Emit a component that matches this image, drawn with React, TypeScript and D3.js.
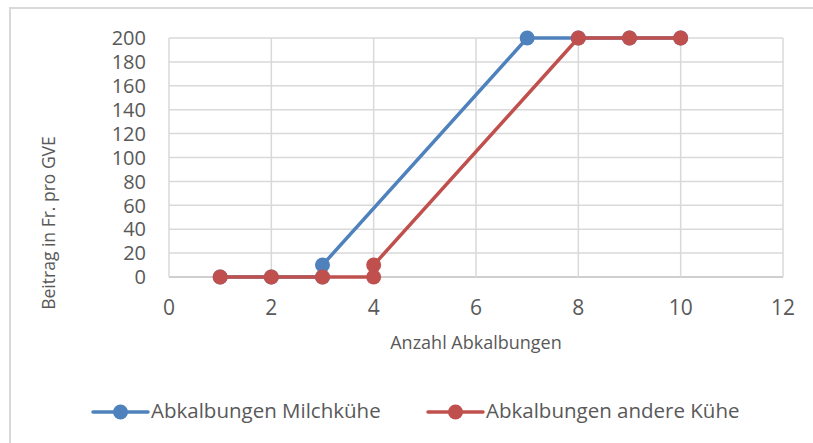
import React, { useEffect, useRef } from 'react';
import * as d3 from 'd3';

// Werte
const milchX = [1, 2, 3, 3, 7, 8, 9, 10];
const milchY = [0, 0, 0, 10, 200, 200, 200, 200];
const andereX = [1, 2, 3, 4, 4, 8, 9, 10];
const andereY = [0, 0, 0, 0, 10, 200, 200, 200];
const xTicks = [0, 2, 4, 6, 8, 10, 12];
const yTicks = [0, 20, 40, 60, 80, 100, 120, 140, 160, 180, 200];
const seriesNames = ['Abkalbungen Milchkühe', 'Abkalbungen andere Kühe'];
const seriesColors = ['#4f81bd', '#c0504d'];

const W = 813;
const H = 443;
const plot = { left: 169, right: 783, top: 38, bottom: 277 };
const font = '"Open Sans", sans-serif';
const textColor = '#595959';

const App = () => {
  const svgRef = useRef<SVGSVGElement | null>(null);

  useEffect(() => {
    const svg = d3.select(svgRef.current);
    svg.selectAll('*').remove();

    const x = d3.scaleLinear().domain([0, 12]).range([plot.left, plot.right]);
    const y = d3.scaleLinear().domain([0, 200]).range([plot.bottom, plot.top]);

    // Rahmen des Diagramms
    svg.append('rect')
      .attr('x', 10).attr('y', 8)
      .attr('width', W).attr('height', H)
      .attr('fill', '#fff')
      .attr('stroke', '#d9d9d9')
      .attr('stroke-width', 2);

    // Gitterlinien
    const grid = svg.append('g');
    grid.selectAll('line.h')
      .data(yTicks)
      .join('line')
      .attr('class', 'h')
      .attr('x1', plot.left).attr('x2', plot.right)
      .attr('y1', d => y(d)).attr('y2', d => y(d))
      .attr('stroke', d => (d === 0 ? '#bfbfbf' : '#d9d9d9'))
      .attr('stroke-width', 1.5);
    grid.selectAll('line.v')
      .data(xTicks)
      .join('line')
      .attr('class', 'v')
      .attr('x1', d => x(d)).attr('x2', d => x(d))
      .attr('y1', plot.top).attr('y2', plot.bottom)
      .attr('stroke', '#d9d9d9')
      .attr('stroke-width', 1.5);

    // Achsenbeschriftungen
    svg.append('g')
      .selectAll('text')
      .data(yTicks)
      .join('text')
      .attr('x', 146)
      .attr('y', d => y(d))
      .attr('dy', '0.36em')
      .attr('text-anchor', 'end')
      .style('font-family', font)
      .style('font-size', '20px')
      .style('fill', textColor)
      .text(d => d);

    svg.append('g')
      .selectAll('text')
      .data(xTicks)
      .join('text')
      .attr('x', d => x(d))
      .attr('y', 315)
      .attr('text-anchor', 'middle')
      .style('font-family', font)
      .style('font-size', '21px')
      .style('fill', textColor)
      .text(d => d);

    svg.append('text')
      .attr('x', (plot.left + plot.right) / 2)
      .attr('y', 349)
      .attr('text-anchor', 'middle')
      .style('font-family', font)
      .style('font-size', '18px')
      .style('fill', textColor)
      .text('Anzahl Abkalbungen');

    svg.append('text')
      .attr('transform', 'translate(55,223) rotate(-90)')
      .attr('text-anchor', 'middle')
      .style('font-family', font)
      .style('font-size', '17.5px')
      .style('fill', textColor)
      .text('Beitrag in Fr. pro GVE');

    // Linien und Punkte
    const series = [
      milchX.map((v, i) => [v, milchY[i]] as [number, number]),
      andereX.map((v, i) => [v, andereY[i]] as [number, number]),
    ];
    const line = d3.line<[number, number]>().x(d => x(d[0])).y(d => y(d[1]));

    series.forEach((pts, i) => {
      const g = svg.append('g');
      g.append('path')
        .attr('d', line(pts))
        .attr('fill', 'none')
        .attr('stroke', seriesColors[i])
        .attr('stroke-width', 3.5)
        .attr('stroke-linejoin', 'round');
      g.selectAll('circle')
        .data(pts)
        .join('circle')
        .attr('cx', d => x(d[0]))
        .attr('cy', d => y(d[1]))
        .attr('r', 7.5)
        .attr('fill', seriesColors[i]);
    });

    // Legende
    const legendPos = [{ x: 93, tx: 151 }, { x: 428, tx: 486 }];
    seriesNames.forEach((name, i) => {
      const lg = svg.append('g').attr('transform', `translate(${legendPos[i].x},412)`);
      lg.append('line')
        .attr('x1', 0).attr('x2', 55)
        .attr('y1', 0).attr('y2', 0)
        .attr('stroke', seriesColors[i])
        .attr('stroke-width', 3.5)
        .attr('stroke-linecap', 'round');
      lg.append('circle')
        .attr('cx', 27.5).attr('cy', 0)
        .attr('r', 7.5)
        .attr('fill', seriesColors[i]);
      svg.append('text')
        .attr('x', legendPos[i].tx)
        .attr('y', 418)
        .style('font-family', font)
        .style('font-size', '20.5px')
        .style('fill', textColor)
        .text(name);
    });
  }, []);

  return (
    <svg
      ref={svgRef}
      width={W}
      height={H}
      style={{ position: 'absolute', left: 0, top: 0, background: '#fff' }}
    />
  );
};

export default App;
